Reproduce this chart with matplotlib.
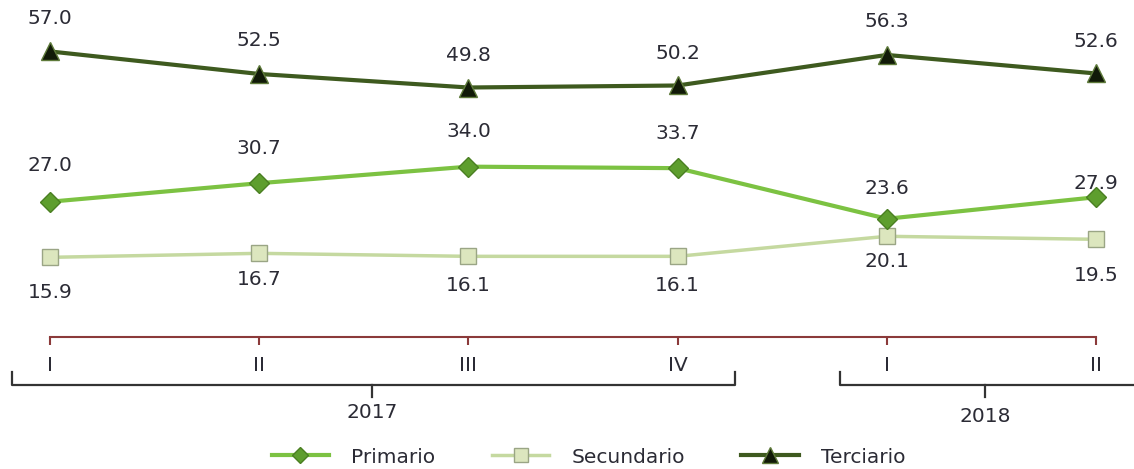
import matplotlib.pyplot as plt
import matplotlib.transforms as mtransforms

plt.rcParams['font.family'] = ['DejaVu Sans']

quarters = ["I", "II", "III", "IV", "I", "II"]
primario = [27.0, 30.7, 34.0, 33.7, 23.6, 27.9]
secundario = [15.9, 16.7, 16.1, 16.1, 20.1, 19.5]
terciario = [57.0, 52.5, 49.8, 50.2, 56.3, 52.6]
years = ["2017", "2018"]

# label offsets in points (styling only)
off_p = [26, 25, 25, 25, 22, 10]
off_s = [-25, -19, -21, -21, -18, -26]
off_t = [24, 24, 23, 23, 24, 23]

FS = 14.5
W, H = 1134, 469
fig = plt.figure(figsize=(W / 100, H / 100), dpi=100)
ax = fig.add_axes([0, 1 - 337 / H, 1, 337 / H])

x = list(range(len(quarters)))

ax.plot(x, primario, color="#7CC242", lw=3, marker="D", ms=10,
        mfc="#5E9E2E", mec="#4A7F22", mew=1, label="Primario", zorder=3)
ax.plot(x, secundario, color="#C5D9A0", lw=2.5, marker="s", ms=12,
        mfc="#DCE6BE", mec="#9AA585", mew=1, label="Secundario", zorder=2)
ax.plot(x, terciario, color="#3E5A1F", lw=3, marker="^", ms=13,
        mfc="#111A08", mec="#5E7A3A", mew=1, label="Terciario", zorder=4)

txt = "#2B2B35"
for vals, offs in [(primario, off_p), (secundario, off_s), (terciario, off_t)]:
    for xi, v, o in zip(x, vals, offs):
        ax.annotate(f"{v:.1f}", (xi, v), xytext=(0, o),
                    textcoords="offset points", ha="center", va="center",
                    fontsize=FS, color=txt)

step = 209.2
ax.set_xlim(-50 / step, (W - 50) / step)
ax.set_ylim(0, 337 / 5.01)

for s in ["top", "left", "right"]:
    ax.spines[s].set_visible(False)
ax.spines["bottom"].set_color("#8B3A3A")
ax.spines["bottom"].set_linewidth(1.5)
ax.spines["bottom"].set_bounds(0, len(quarters) - 1)
ax.set_yticks([])
ax.set_xticks(x)
ax.set_xticklabels(quarters, fontsize=FS, color=txt)
ax.tick_params(axis="x", colors="#8B3A3A", length=6, width=1.5, pad=8,
               labelcolor=txt)

# year brackets below the axis
trans = mtransforms.blended_transform_factory(ax.transData, fig.transFigure)
def fy(p):
    return 1 - p / H

brackets = [(-38 / step, 685 / step, 1.54, years[0], 412),
            (790 / step, 1134 / step, 4.47, years[1], 416)]
for x0, x1, xc, lab, ty in brackets:
    ax.plot([x0, x0, x1, x1], [fy(372), fy(385), fy(385), fy(372)],
            transform=trans, color="#333333", lw=1.6, clip_on=False)
    ax.plot([xc, xc], [fy(385), fy(397)], transform=trans,
            color="#333333", lw=1.6, clip_on=False)
    ax.text(xc, fy(ty), lab, transform=trans, ha="center", va="center",
            fontsize=FS, color=txt)

fig.legend(loc="center", bbox_to_anchor=(0.519, fy(457)), ncol=3,
           frameon=False, fontsize=FS, handlelength=2.85, handletextpad=1.1,
           columnspacing=2.8, labelcolor=txt, markerscale=0.85)

fig.savefig("out.png", dpi=100)
